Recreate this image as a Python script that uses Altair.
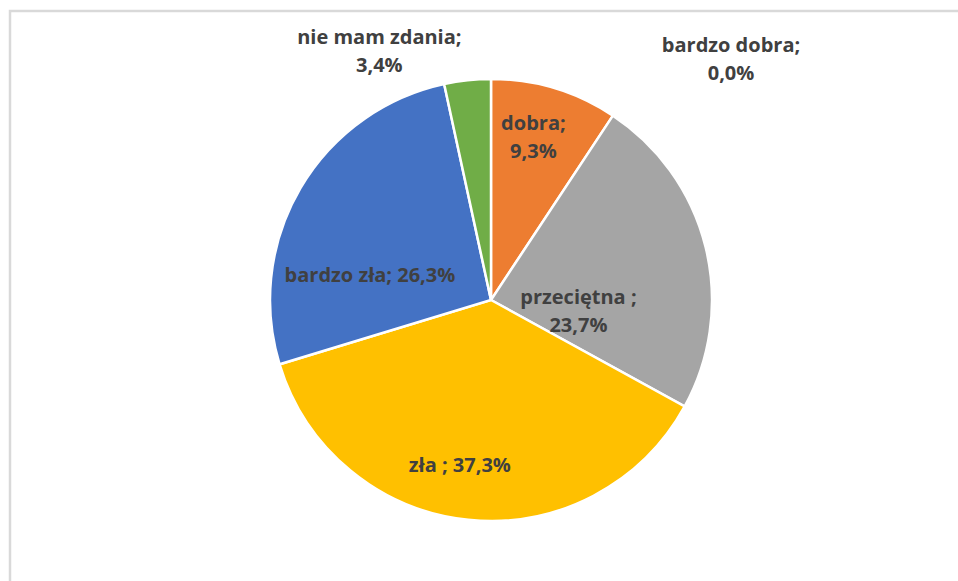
import altair as alt
import pandas as pd

# data
categories = ["bardzo dobra", "dobra", "przeciętna", "zła", "bardzo zła", "nie mam zdania"]
values = [0.0, 9.3, 23.7, 37.3, 26.3, 3.4]
label_names = ["bardzo dobra;", "dobra;", "przeciętna ;", "zła ;", "bardzo zła;", "nie mam zdania;"]
label_joins = ["\n", "\n", "\n", " ", " ", "\n"]
colors = ["#5B9BD5", "#ED7D31", "#A5A5A5", "#FFC000", "#4472C4", "#70AD47"]

df = pd.DataFrame({
    "cat": categories,
    "value": values,
    "idx": list(range(len(categories))),
    "label": [n + j + f"{v:.1f}%".replace(".", ",") for n, j, v in zip(label_names, label_joins, values)],
})

# label placement (polar radius in px, extra dx/dy) - styling only
label_layout = {
    "bardzo dobra": (242, 240, -12),
    "dobra": (168, -6, -15),
    "przeciętna": (88, 2, 19),
    "zła": (166, -14, 1),
    "bardzo zła": (123, -15, 38),
    "nie mam zdania": (250, -85, -13),
}

theta_scale = alt.Scale(domain=[0, 100])
base = alt.Chart(df)

pie = base.mark_arc(outerRadius=221, stroke="white", strokeWidth=2.5).encode(
    theta=alt.Theta("value:Q", stack=True, scale=theta_scale),
    order=alt.Order("idx:Q"),
    color=alt.Color("cat:N", scale=alt.Scale(domain=categories, range=colors), legend=None),
)

layers = [pie]
for c in categories:
    r, dx, dy = label_layout[c]
    t = base.transform_window(
        cum="sum(value)", sort=[alt.SortField("idx")], frame=[None, 0]
    ).transform_calculate(
        mid="datum.cum - datum.value / 2"
    ).transform_filter(
        alt.datum.cat == c
    ).mark_text(
        radius=r, dx=dx, dy=dy, font="Open Sans", fontSize=20, fontWeight="bold",
        color="#404040", lineBreak="\n", lineHeight=28, align="center", baseline="middle",
    ).encode(
        theta=alt.Theta("mid:Q", stack=None, scale=theta_scale),
        text="label:N",
    )
    layers.append(t)

frame = alt.Chart(pd.DataFrame({"a": [0]})).mark_rect(
    fill=None, stroke="#d9d9d9", strokeWidth=2.5
).encode(
    x=alt.value(-14), y=alt.value(-8), x2=alt.value(960), y2=alt.value(600)
)

chart = alt.layer(frame, *layers).properties(
    width=934, height=562,
    padding={"left": 24, "top": 19, "right": 0, "bottom": 0},
    autosize=alt.AutoSizeParams(type="none"),
    background="white",
).configure_view(stroke=None)

chart.save("out.html", embed_options={"renderer": "svg", "actions": False})
